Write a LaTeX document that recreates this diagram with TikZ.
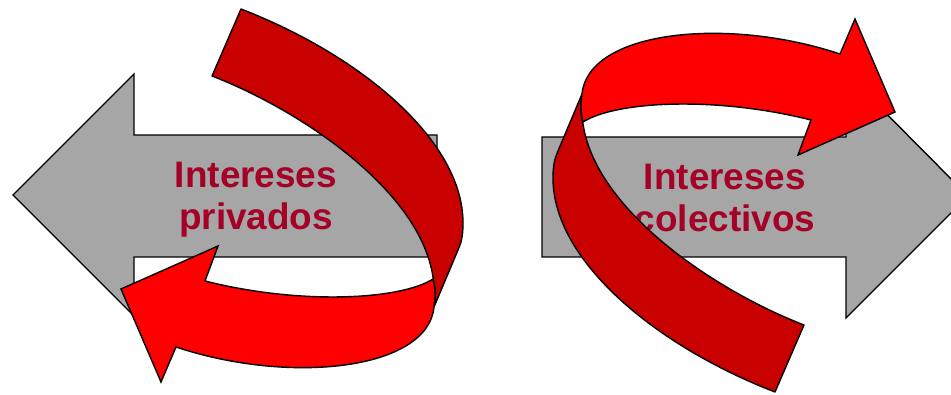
\documentclass[tikz,border=0pt]{standalone}
\usepackage{fontspec}
\setmainfont{Liberation Sans}
\usepackage{tikz}
\definecolor{arrowgray}{RGB}{166,166,166}
\definecolor{darkred}{RGB}{200,0,0}
\definecolor{brightred}{RGB}{255,0,0}
\definecolor{textred}{RGB}{165,0,38}
\newcommand{\redribbon}{%
  \draw[backband] (241,9) .. controls (360,55) and (463,140) .. (463,223)
    .. controls (463,237) and (461,243) .. (458,250) -- (434,307)
    .. controls (435,300) and (436,290) .. (433,277)
    .. controls (420,190) and (300,110) .. (212,76) -- cycle;
  \draw[frontband] (433,279) .. controls (436,290) and (435,300) .. (434,307)
    .. controls (428,370) and (290,385) .. (176,347)
    -- (161,382) -- (121,289) -- (218,246) -- (205,281)
    .. controls (300,305) and (400,300) .. (433,279) -- cycle;
}

\begin{document}
\begin{tikzpicture}[
    x=0.02cm, y=-0.02cm,
    line width=0.8pt,
    grayarrow/.style={draw=black, fill=arrowgray},
    backband/.style={draw=black, fill=darkred, line join=round},
    frontband/.style={draw=black, fill=brightred},
    interes/.style={text=textred, align=center, anchor=base,
      font=\fontsize{21}{24}\selectfont\bfseries},
    ]
    \useasboundingbox (0,0) rectangle (951,395);
    \clip (0,0) rectangle (951,395);
    \draw[grayarrow] (13,195) -- (134,74) -- (134,135) -- (437,135)
      -- (437,257) -- (134,257) -- (134,316) -- cycle;
    \draw[grayarrow] (968,196) -- (846,73) -- (846,137) -- (542,137)
      -- (542,257) -- (846,257) -- (846,318) -- cycle;
    \node[interes] (privados) at (256,230) {Intereses\\privados};
    \node[interes] (colectivos) at (725,232) {Intereses\\colectivos};
    \redribbon
    \begin{scope}[rotate around={180:(508,200.5)}]
      \redribbon
    \end{scope}
  \end{tikzpicture}
\end{document}
